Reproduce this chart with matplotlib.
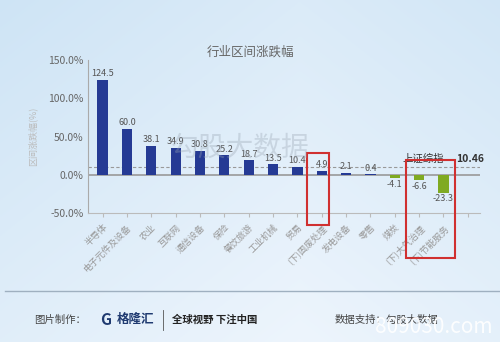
import numpy as np
import matplotlib
matplotlib.use("Agg")
import matplotlib.pyplot as plt
from matplotlib.patches import Rectangle

plt.rcParams['font.family'] = ['Noto Sans CJK SC', 'DejaVu Sans']

categories = ["半导体", "电子元件及设备", "农业", "互联网", "通信设备", "保险", "餐饮旅游",
              "工业机械", "贸易", "(下)固废处理", "发电设备", "零售", "煤炭", "(下)大气治理", "(下)节能服务"]
values = [124.5, 60.0, 38.1, 34.9, 30.8, 25.2, 18.7, 13.5, 10.4, 4.9, 2.1, 0.4, -4.1, -6.6, -23.3]
index_name = "上证综指"
index_value = 10.46
yticks = [-50, 0, 50, 100, 150]

W, H = 500, 342
fig = plt.figure(figsize=(W / 100, H / 100), dpi=100)

# background gradient
bg = fig.add_axes([0, 0, 1, 1], zorder=-10)
yy, xx = np.mgrid[0:1:200j, 0:1:300j]
c1 = np.array([0.80, 0.89, 0.96])
c2 = np.array([0.93, 0.96, 0.99])
t = np.clip(0.55 * (1 - yy) + 0.45 * (1 - np.abs(xx - 0.6) * 1.4), 0, 1)
img = c1[None, None, :] * (1 - t[..., None]) + c2[None, None, :] * t[..., None]
bg.imshow(img, aspect='auto', extent=[0, 1, 0, 1], origin='lower')
bg.axis('off')

ax = fig.add_axes([88 / W, 1 - 213 / H, (480 - 88) / W, (213 - 60) / H])
ax.patch.set_alpha(0)
x = np.arange(len(categories))
colors = ['#253a94' if v >= 0 else '#7faa22' for v in values]
ax.bar(x, values, width=0.42, color=colors, zorder=3)

for xi, v in zip(x, values):
    if v >= 0:
        ax.text(xi, v + 2.5, f"{v:.1f}", ha='center', va='bottom', fontsize=6.5, color='#555555', zorder=4)
    else:
        ax.text(xi, v - 2.5, f"{v:.1f}", ha='center', va='top', fontsize=6.5, color='#555555', zorder=4)

ax.set_xlim(-0.6, len(categories) + 0.5)
ax.set_ylim(-50, 150)
ax.set_yticks(yticks)
ax.set_yticklabels([f"{v:.1f}%" for v in yticks], fontsize=7.5, color='#666666')
ax.set_xticks(list(x) + [len(categories)])
ax.set_xticklabels(categories + [""], rotation=45, ha='right', fontsize=6.5, color='#999999',
                   rotation_mode='anchor')
ax.tick_params(axis='x', length=3, color='#bbbbbb', pad=4)
ax.tick_params(axis='y', length=0, pad=3)
for s in ['top', 'right']:
    ax.spines[s].set_visible(False)
ax.spines['left'].set_color('#aaaaaa')
ax.spines['bottom'].set_color('#bbbbbb')
ax.spines['left'].set_linewidth(0.8)
ax.spines['bottom'].set_linewidth(0.8)

ax.axhline(0, color='#999999', lw=1.2, zorder=2)
ax.axhline(index_value, color='#999999', lw=0.8, ls=(0, (3, 2)), zorder=2)
ax.text(len(categories) - 2.7, index_value + 4, index_name, fontsize=7.5, color='#333333', va='bottom')
ax.text(len(categories) - 0.5, index_value + 4, f"{index_value:.2f}", fontsize=7.5,
        color='#333333', fontweight='bold', va='bottom')
ax.set_ylabel("区间涨跌幅(%)", fontsize=6.5, color='#bbbbbb', labelpad=8)

fig.text(0.5, 1 - 52 / H, "行业区间涨跌幅", ha='center', va='center', fontsize=9, color='#666666')

# watermark
fig.text(0.48, 1 - 148 / H, "勾股大数据", ha='center', va='center', fontsize=20,
         color='#9aa6b4', alpha=0.35)

# red highlight boxes
for (x0, y0, x1, y1) in [(307, 153, 329, 225), (406, 160, 455, 258)]:
    fig.add_artist(Rectangle((x0 / W, 1 - y1 / H), (x1 - x0) / W, (y1 - y0) / H,
                             transform=fig.transFigure, fill=False, ec='#d03030', lw=1.5))

# footer
fig.add_artist(plt.Line2D([5 / W, 1], [1 - 291 / H, 1 - 291 / H], transform=fig.transFigure,
                          color='#9fb0c0', lw=1))
fig.text(34 / W, 1 - 320 / H, "图片制作：", fontsize=7.5, color='#444444', va='center')
fig.text(100 / W, 1 - 320 / H, "G", fontsize=11, color='#1f3a70', va='center', fontweight='bold')
fig.text(117 / W, 1 - 319 / H, "格隆汇", fontsize=9, color='#1f3a70', va='center', fontweight='bold')
fig.add_artist(plt.Line2D([163 / W, 163 / W], [1 - 330 / H, 1 - 310 / H], transform=fig.transFigure,
                          color='#555555', lw=0.6))
fig.text(172 / W, 1 - 320 / H, "全球视野 下注中国", fontsize=7.5, color='#222222', va='center',
         fontweight='bold')
fig.text(335 / W, 1 - 320 / H, "数据支持：勾股大数据", fontsize=7.5, color='#444444', va='center')
fig.text(375 / W, 1 - 327 / H, "809030.com", fontsize=15, color='white', va='center', alpha=0.9)

fig.savefig("out.png", dpi=100)
